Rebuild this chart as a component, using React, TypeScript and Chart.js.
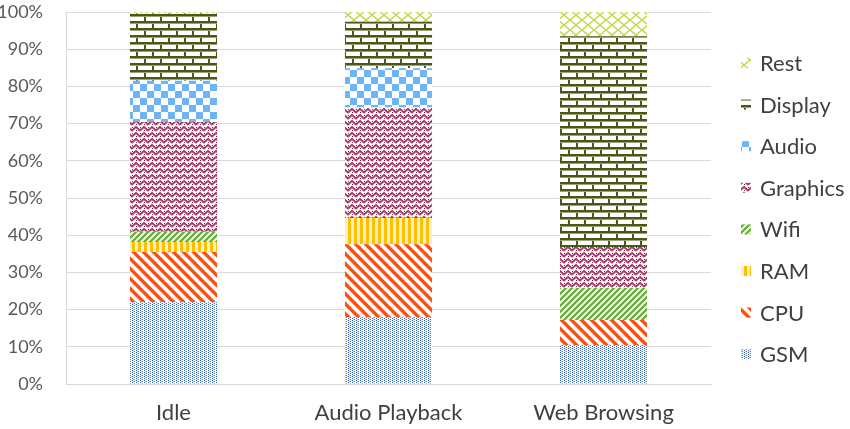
import React, { useEffect, useRef } from "react";
import { Chart, registerables } from "chart.js";
Chart.register(...registerables);

const categories = ["Idle", "Audio Playback", "Web Browsing"];
const seriesNames = ["GSM", "CPU", "RAM", "Wifi", "Graphics", "Audio", "Display", "Rest"];
const gsm = [22, 18, 10.5];
const cpu = [13.5, 19.6, 6.7];
const ram = [2.7, 7, 0];
const wifi = [2.7, 0, 8.6];
const graphics = [29.5, 29.8, 11];
const audio = [11.1, 10.5, 0];
const display = [18.1, 12.5, 56.7];
const rest = [0.4, 2.6, 6.5];
const yTicks = [0, 10, 20, 30, 40, 50, 60, 70, 80, 90, 100];

const FONT = "Lato, 'Open Sans', sans-serif";

function makePattern(w: number, h: number, draw: (c: CanvasRenderingContext2D) => void): CanvasPattern {
  const cv = document.createElement("canvas");
  cv.width = w;
  cv.height = h;
  const c = cv.getContext("2d")!;
  c.fillStyle = "#ffffff";
  c.fillRect(0, 0, w, h);
  draw(c);
  return c.createPattern(cv, "repeat")!;
}

function px(c: CanvasRenderingContext2D, x: number, y: number, col: string) {
  c.fillStyle = col;
  c.fillRect(x, y, 1, 1);
}

function buildPatterns(): CanvasPattern[] {
  const gsmP = makePattern(4, 4, (c) => {
    px(c, 0, 0, "#2E5FA3");
    px(c, 0, 2, "#2E5FA3");
    px(c, 1, 1, "#A9C4E6");
    px(c, 1, 3, "#A9C4E6");
    px(c, 2, 1, "#4A7DC0");
    px(c, 2, 3, "#4A7DC0");
    px(c, 3, 0, "#D5E3F3");
  });
  const cpuP = makePattern(10, 10, (c) => {
    for (let x = 0; x < 10; x++)
      for (let y = 0; y < 10; y++) {
        const m = (((x - y) % 10) + 10) % 10;
        if (m < 4) px(c, x, y, "#FF4E12");
        else if (m === 4 || m === 9) px(c, x, y, "#FFB79A");
      }
  });
  const ramP = makePattern(6, 1, (c) => {
    c.fillStyle = "#FFC000";
    c.fillRect(0, 0, 3, 1);
    c.fillStyle = "#FFEFC0";
    c.fillRect(3, 0, 3, 1);
  });
  const wifiP = makePattern(6, 6, (c) => {
    for (let x = 0; x < 6; x++)
      for (let y = 0; y < 6; y++) {
        const m = (x + y) % 6;
        if (m < 3) px(c, x, y, "#6FAD46");
        else px(c, x, y, "#E4F0DA");
      }
  });
  const graphicsP = makePattern(8, 6, (c) => {
    c.strokeStyle = "#A83A66";
    c.lineWidth = 1.9;
    c.beginPath();
    c.moveTo(-1, 0);
    c.lineTo(4, 4.5);
    c.lineTo(9, 0);
    c.moveTo(-1, 6);
    c.lineTo(0, 7);
    c.moveTo(9, 6);
    c.lineTo(8, 7);
    c.stroke();
    px(c, 4, 1, "#8A1A48");
    px(c, 0, 4, "#8A1A48");
  });
  const audioP = makePattern(14, 14, (c) => {
    c.fillStyle = "#6DB5F7";
    c.fillRect(0, 0, 7, 7);
    c.fillRect(7, 7, 7, 7);
  });
  const displayP = makePattern(16, 14, (c) => {
    c.fillStyle = "#4A5716";
    c.fillRect(0, 0, 16, 2);
    c.fillRect(0, 7, 16, 2);
    c.fillRect(0, 2, 2, 5);
    c.fillRect(8, 9, 2, 5);
    c.fillStyle = "#9AA27A";
    c.fillRect(0, 2, 16, 1);
    c.fillRect(0, 9, 16, 1);
  });
  const restP = makePattern(12, 10, (c) => {
    c.strokeStyle = "#BFDA45";
    c.lineWidth = 1.4;
    c.beginPath();
    c.moveTo(0, 5);
    c.lineTo(6, 0);
    c.lineTo(12, 5);
    c.lineTo(6, 10);
    c.closePath();
    c.stroke();
  });
  return [gsmP, cpuP, ramP, wifiP, graphicsP, audioP, displayP, restP];
}

const legendPlugin = {
  id: "sideLegend",
  afterDraw(chart: any) {
    const ctx: CanvasRenderingContext2D = chart.ctx;
    const ds = chart.data.datasets;
    ctx.save();
    ctx.font = `22px ${FONT}`;
    ctx.textBaseline = "middle";
    ctx.textAlign = "left";
    let k = 0;
    for (let i = ds.length - 1; i >= 0; i--, k++) {
      const y = 63 + k * 41.6;
      ctx.fillStyle = ds[i].backgroundColor;
      ctx.fillRect(741, y - 5, 10, 10);
      ctx.fillStyle = "#404040";
      ctx.fillText(ds[i].label, 760, y + 1);
    }
    ctx.restore();
  },
};

export default function App() {
  const ref = useRef<HTMLCanvasElement>(null);
  useEffect(() => {
    const pats = buildPatterns();
    const series = [gsm, cpu, ram, wifi, graphics, audio, display, rest];
    const chart = new Chart(ref.current!, {
      type: "bar",
      data: {
        labels: categories,
        datasets: series.map((d, i) => ({
          label: seriesNames[i],
          data: d,
          backgroundColor: pats[i] as any,
          borderWidth: 0,
          barPercentage: 1,
          categoryPercentage: 0.405,
        })),
      },
      options: {
        animation: false,
        responsive: false,
        devicePixelRatio: 1,
        layout: { padding: { top: 12, right: 139, left: 0, bottom: 0 } },
        plugins: { legend: { display: false }, tooltip: { enabled: false } },
        scales: {
          x: {
            stacked: true,
            grid: { display: false, drawTicks: false },
            border: { display: true, color: "#D9D9D9", width: 1 },
            ticks: { color: "#404040", font: { family: FONT, size: 22 }, padding: 16 },
            afterFit: (s: any) => {
              s.height = 45;
              s.paddingLeft = 0;
              s.paddingRight = 0;
            },
          },
          y: {
            stacked: true,
            min: 0,
            max: 100,
            afterBuildTicks: (s: any) => {
              s.ticks = yTicks.map((v) => ({ value: v }));
            },
            grid: { color: "#D9D9D9", lineWidth: 1, drawTicks: false },
            border: { display: true, color: "#D9D9D9", width: 1 },
            ticks: {
              color: "#595959",
              font: { family: FONT, size: 18 },
              padding: 23,
              callback: (v: any) => `${v}%`,
            },
            afterFit: (s: any) => {
              s.width = 66;
              s.paddingTop = 0;
              s.paddingBottom = 0;
            },
          },
        },
      },
      plugins: [legendPlugin],
    });
    return () => chart.destroy();
  }, []);
  return (
    <div style={{ position: "fixed", left: 0, top: 0, width: 850, height: 429, background: "#fff" }}>
      <canvas ref={ref} width={850} height={429} style={{ display: "block" }} />
    </div>
  );
}
